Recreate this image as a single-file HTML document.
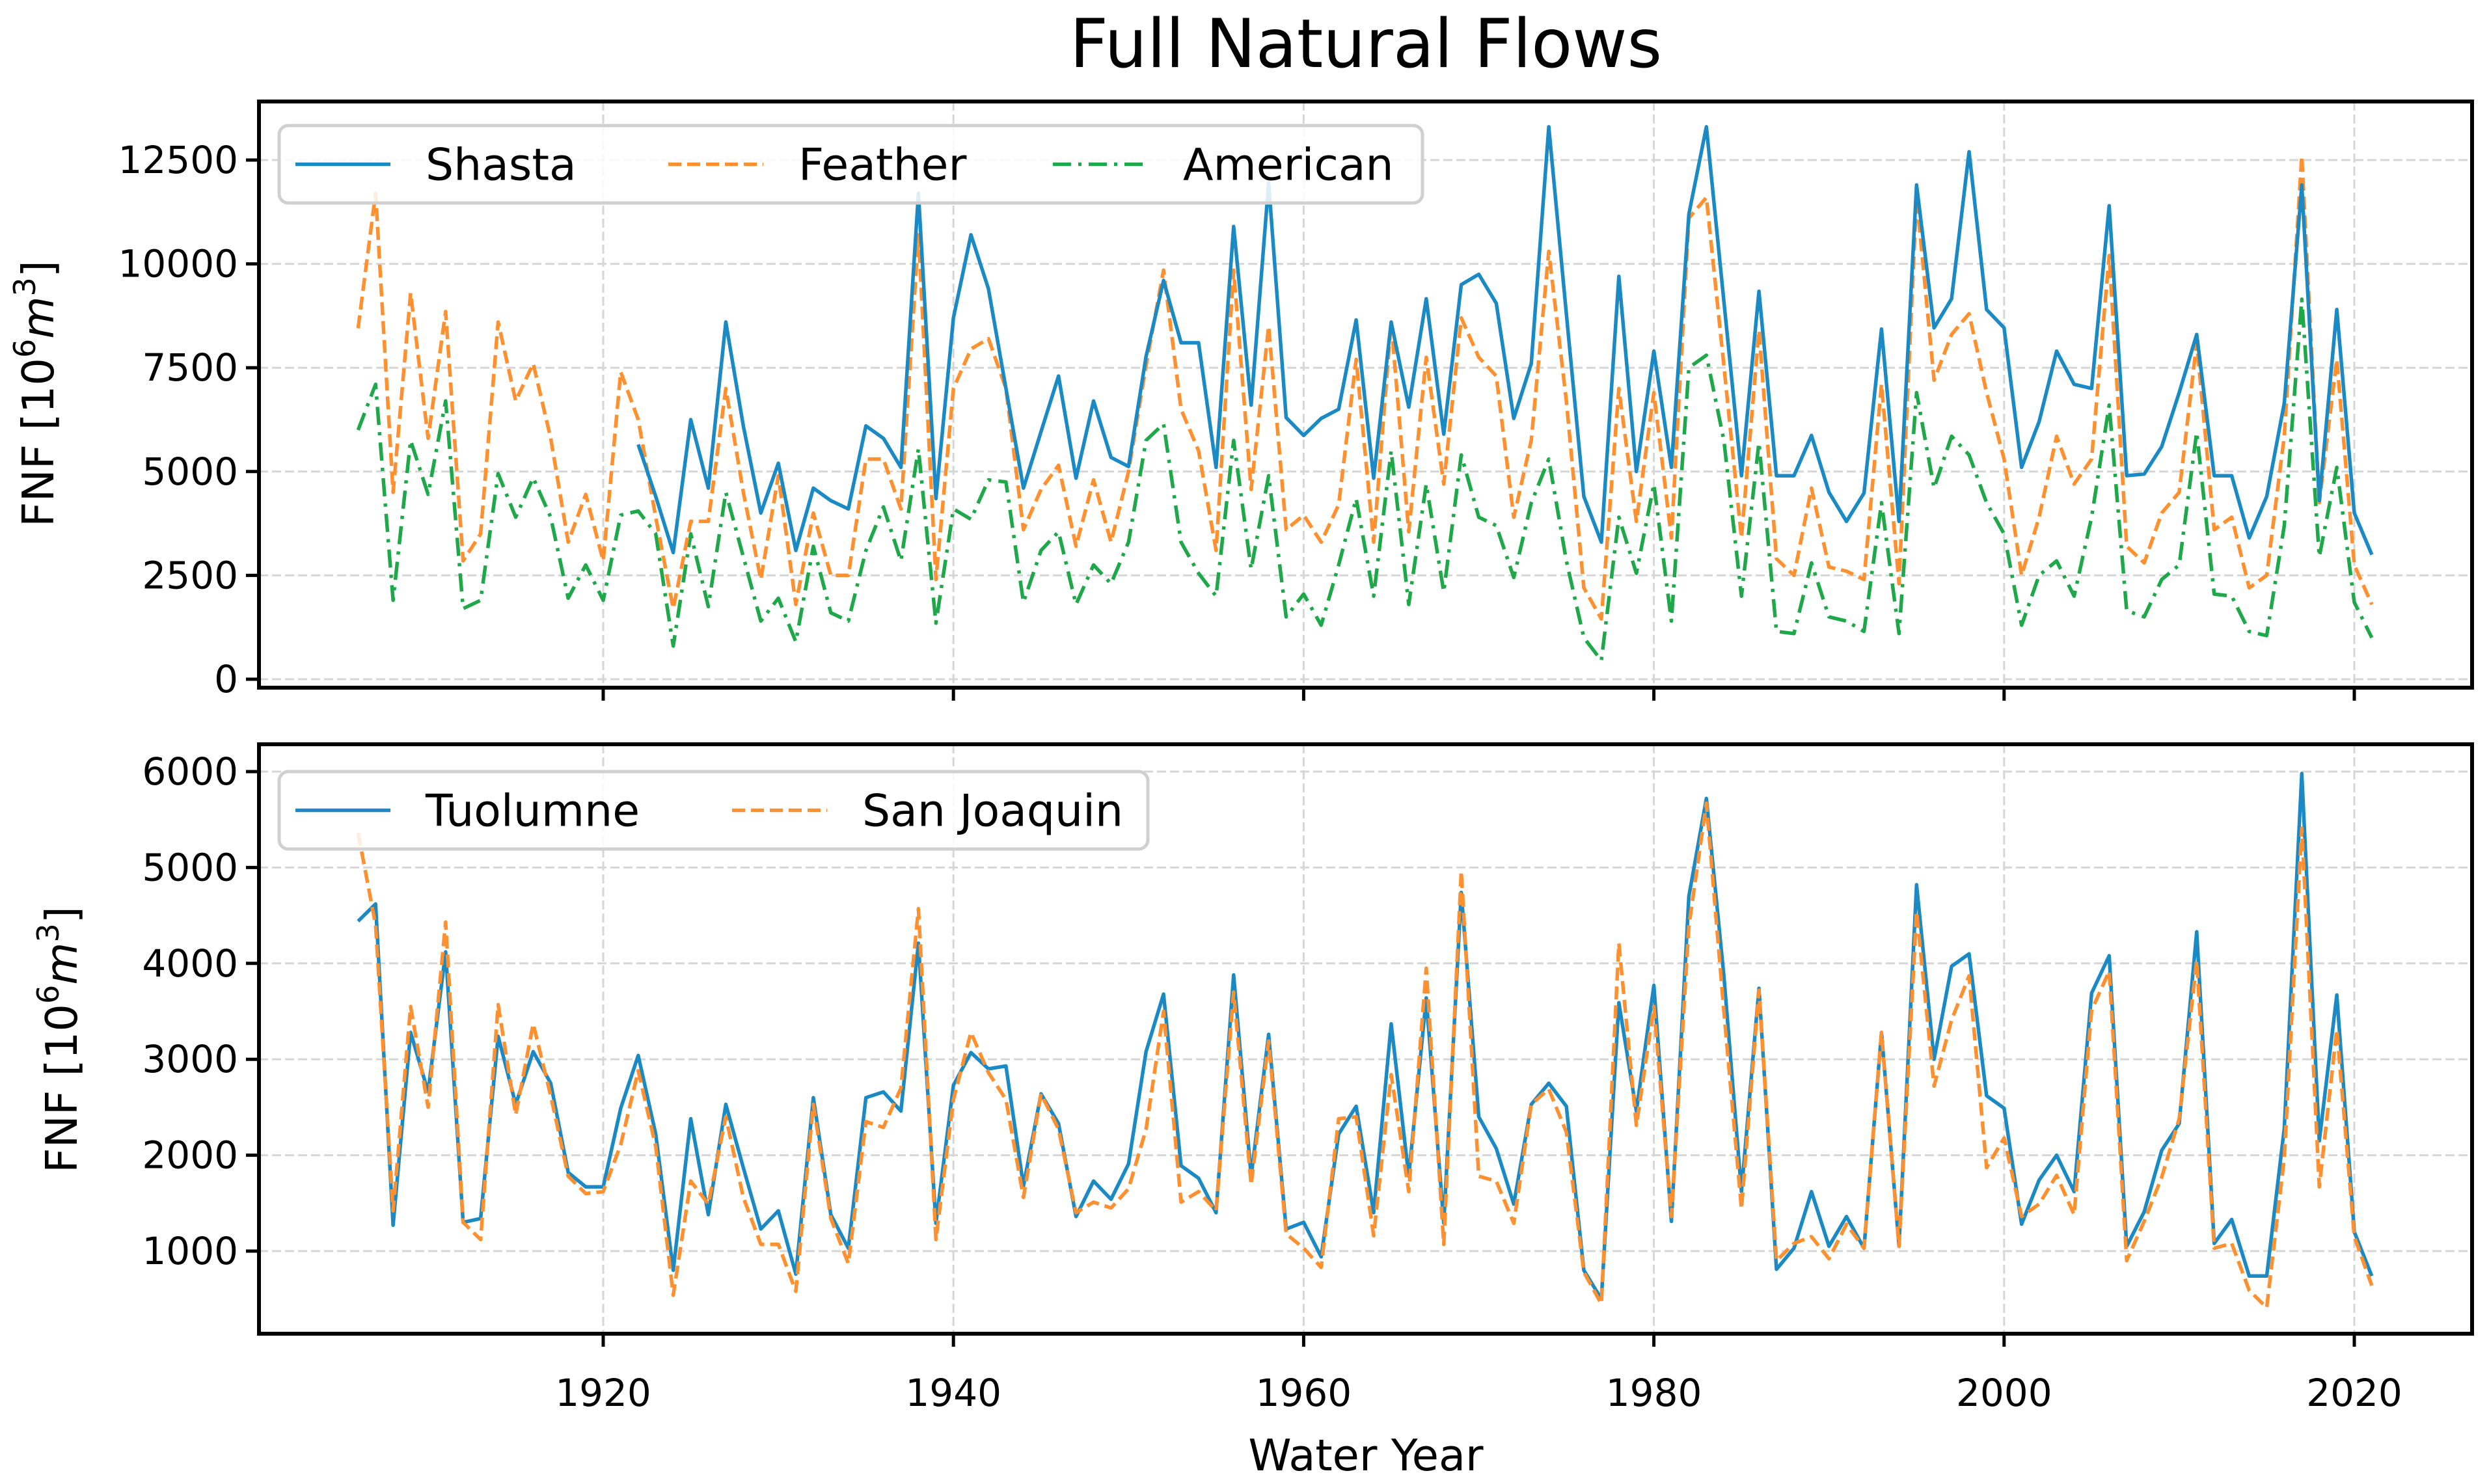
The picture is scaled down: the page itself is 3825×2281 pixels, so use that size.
<!DOCTYPE html>
<html><head><meta charset="utf-8"><title>Full Natural Flows</title>
<style>
html,body{margin:0;padding:0;background:#fff;}
svg{display:block;font-family:"DejaVu Sans","Liberation Sans",sans-serif;}
</style></head>
<body>
<svg id="chart" width="3825" height="2281" viewBox="0 0 3825 2281" xmlns="http://www.w3.org/2000/svg">
<rect width="3825" height="2281" fill="#fff"/>
<text x="2099" y="103" font-size="103" text-anchor="middle" fill="#000">Full Natural Flows</text>
<text x="2099" y="2260" font-size="67" text-anchor="middle" fill="#000">Water Year</text>
<text transform="translate(82,605) rotate(-90)" font-size="67" text-anchor="middle" fill="#000">FNF [10<tspan font-size="46" dy="-28">6</tspan><tspan dy="28" font-style="italic">m</tspan><tspan font-size="46" dy="-28">3</tspan><tspan dy="28">]</tspan></text>
<text transform="translate(118,1598) rotate(-90)" font-size="67" text-anchor="middle" fill="#000">FNF [10<tspan font-size="46" dy="-28">6</tspan><tspan dy="28" font-style="italic">m</tspan><tspan font-size="46" dy="-28">3</tspan><tspan dy="28">]</tspan></text>
<g id="plots"></g>
</svg>
<script>
const startYear = 1906;
const shastaStart = 1922;
const shasta = [5650,4400,3050,6250,4600,8600,6100,4000,5200,3100,
4600,4300,4100,6100,5800,5100,11700,4350,8700,10700,
9400,7000,4600,5960,7300,4840,6700,5340,5120,7770,
9600,8100,8100,5100,10900,6600,11950,6300,5870,6280,
6500,8650,4840,8600,6550,9160,5900,9500,9750,9050,
6280,7600,13300,8800,4400,3300,9700,5000,7900,5100,
11200,13300,9100,4900,9340,4900,4900,5870,4500,3800,
4480,8430,3800,11900,8460,9160,12700,8900,8460,5100,
6200,7900,7100,7000,11400,4900,4940,5600,6900,8300,
4900,4900,3400,4400,6650,11900,4300,8900,4000,3000];
const feather = [8450,11700,4500,9300,5800,8850,2850,3500,8600,6700,
7600,5800,3300,4450,2850,7400,6250,3900,1700,3800,
3800,7000,4500,2400,4900,1800,4000,2500,2500,5300,
5300,4100,10700,2400,7000,7950,8200,7000,3600,4570,
5150,3200,4800,3300,5000,7550,9850,6500,5500,3100,
9850,4570,8500,3600,3950,3300,4200,7700,3300,8600,
3550,7750,4700,8700,7750,7300,3900,5750,10300,6700,
2200,1450,7000,3800,6900,3400,11100,11600,7550,3400,
8400,2900,2500,4600,2700,2600,2400,7100,2300,11600,
7200,8300,8800,6900,5300,2500,3900,5850,4700,5300,
10200,3200,2800,4000,4500,8100,3600,3900,2200,2500,
5850,12600,4250,7700,2750,1800];
const american = [6000,7100,1900,5750,4450,6700,1700,1900,4950,3900,
4850,3900,1950,2750,1900,3950,4050,3500,800,3500,
1750,4500,2950,1400,1950,900,3200,1600,1400,3100,
4150,2850,5550,1350,4100,3850,4800,4750,1850,3100,
3550,1800,2750,2300,3300,5750,6150,3300,2550,2000,
5750,2650,4900,1500,2050,1300,2750,4350,2000,5500,
1800,4700,2100,5400,3900,3700,2450,4250,5300,2850,
1000,450,3900,2550,4700,1400,7500,7800,5750,2000,
5700,1150,1100,2800,1500,1400,1150,4250,1100,6900,
4600,5850,5400,4250,3500,1300,2500,2850,2000,3900,
6600,1650,1500,2400,2750,5950,2050,2000,1150,1050,
3700,9150,2950,5100,1850,1000];
const tuolumne = [4440,4620,1270,3280,2660,4120,1300,1340,3240,2530,
3080,2750,1820,1670,1670,2490,3040,2220,800,2380,
1380,2530,1870,1230,1420,760,2600,1380,1030,2600,
2660,2460,4210,1290,2730,3070,2900,2930,1680,2640,
2330,1360,1730,1540,1910,3080,3680,1890,1760,1400,
3880,1780,3260,1230,1300,940,2220,2510,1400,3370,
1780,3640,1290,4740,2400,2070,1490,2530,2750,2510,
800,500,3590,2460,3770,1310,4700,5720,3870,1620,
3740,810,1030,1620,1050,1360,1030,3280,1050,4820,
3000,3970,4100,2620,2490,1280,1740,2000,1620,3690,
4080,1050,1410,2050,2330,4330,1080,1330,740,740,
2280,5980,2150,3670,1200,740];
const sanJoaquin = [5360,4400,1420,3550,2500,4430,1300,1120,3570,2420,
3370,2620,1780,1600,1620,2110,2880,2090,540,1730,
1490,2400,1560,1070,1070,580,2530,1340,870,2350,
2290,2700,4570,1120,2580,3280,2860,2580,1560,2640,
2270,1400,1510,1450,1650,2270,3500,1510,1620,1420,
3700,1690,3190,1180,1030,830,2380,2400,1160,2840,
1620,3950,1070,4960,1780,1730,1290,2530,2690,2240,
780,450,4210,2310,3550,1360,4390,5670,3500,1440,
3720,900,1080,1150,920,1280,1030,3280,1050,4540,
2720,3410,3870,1870,2180,1360,1490,1790,1380,3510,
3920,900,1310,1770,2380,4030,1030,1080,590,410,
1970,5410,1670,3310,1150,640];
const xTicks = [1920,1940,1960,1980,2000,2020];
const topYTicks = [0,2500,5000,7500,10000,12500];
const bottomYTicks = [1000,2000,3000,4000,5000,6000];

const NS = 'http://www.w3.org/2000/svg';
const root = document.getElementById('plots');
const L = 398, R = 3799;
const xScale = y => 927 + (y - 1920) * 26.91;
const topY = v => 1044 - v * (798 / 12500);
const botY = v => 1923 - (v - 1000) * (737 / 5000);
function mk(tag, attrs, parent) {
  const e = document.createElementNS(NS, tag);
  for (const k in attrs) e.setAttribute(k, attrs[k]);
  (parent || root).appendChild(e);
  return e;
}
const BLUE = '#1b8ac4', ORANGE = '#ff9030', GREEN = '#1fa84a';
const LW = 5.5;
const DASH = '20 9';
const DASHDOT = '28 11 5 11';

function panel(name, top, bottom, yFn, yTicks, series, legend, leg) {
  const g = mk('g', {});
  
  
  xTicks.forEach(t => {
    const l = mk('line', {x1: xScale(t), x2: xScale(t), y1: top, y2: bottom, stroke: '#d6d6d6', 'stroke-width': 3, 'stroke-dasharray': '14 6'}, g);
    
    
  });
  yTicks.forEach(t => {
    const l = mk('line', {x1: L, x2: R, y1: yFn(t), y2: yFn(t), stroke: '#d6d6d6', 'stroke-width': 3, 'stroke-dasharray': '14 6'}, g);
    
    
    const tk = mk('line', {x1: L - 20, x2: L, y1: yFn(t), y2: yFn(t), stroke: '#000', 'stroke-width': 5}, g);
    
    
    const tx = mk('text', {x: L - 32, y: yFn(t) + 20, 'font-size': 58, 'text-anchor': 'end', fill: '#000'}, g);
    tx.textContent = t;
    
    
  });
  xTicks.forEach(t => {
    const tk = mk('line', {x1: xScale(t), x2: xScale(t), y1: bottom, y2: bottom + 20, stroke: '#000', 'stroke-width': 5}, g);
    
    
  });
  series.forEach(s => {
    let d = '';
    s.values.forEach((v, i) => {
      if (v == null) return;
      const yr = s.start + i;
      d += (d ? 'L' : 'M') + xScale(yr).toFixed(1) + ',' + yFn(v).toFixed(1);
    });
    const p = mk('path', {d: d, fill: 'none', stroke: s.color, 'stroke-width': LW, 'stroke-linejoin': 'round'}, g);
    if (s.dash) p.setAttribute('stroke-dasharray', s.dash);
    
    
  });
  const fr = mk('rect', {x: L, y: top, width: R - L, height: bottom - top, fill: 'none', stroke: '#000', 'stroke-width': 6}, g);
  
  
  const lg = mk('g', {}, g);
  
  
  mk('rect', {x: leg.x, y: leg.y, width: leg.w, height: leg.h, rx: 14, fill: '#fff', 'fill-opacity': 0.85, stroke: '#d0d0d0', 'stroke-width': 5}, lg);
  legend.forEach(e => {
    const cy = leg.y + leg.h / 2;
    const ln = mk('line', {x1: e.x, x2: e.x + 146, y1: cy, y2: cy, stroke: e.color, 'stroke-width': LW}, lg);
    if (e.dash) ln.setAttribute('stroke-dasharray', e.dash);
    
    
    const t = mk('text', {x: e.x + 200, y: cy + 24, 'font-size': 68, fill: '#000'}, lg);
    t.textContent = e.label;
    
    
  });
}

const shastaFull = new Array(shastaStart - startYear).fill(null).concat(shasta);
panel('top-panel', 156, 1057, topY, topYTicks, [
  {name: 'american', values: american, start: startYear, color: GREEN, dash: DASHDOT},
  {name: 'feather', values: feather, start: startYear, color: ORANGE, dash: DASH},
  {name: 'shasta', values: shastaFull, start: startYear, color: BLUE}
], [
  {label: 'Shasta', color: BLUE, x: 454},
  {label: 'Feather', color: ORANGE, x: 1027, dash: DASH},
  {label: 'American', color: GREEN, x: 1618, dash: DASHDOT}
], {x: 429, y: 193, w: 1757, h: 119});

panel('bottom-panel', 1144, 2050, botY, bottomYTicks, [
  {name: 'tuolumne', values: tuolumne, start: startYear, color: BLUE},
  {name: 'san-joaquin', values: sanJoaquin, start: startYear, color: ORANGE, dash: DASH}
], [
  {label: 'Tuolumne', color: BLUE, x: 454},
  {label: 'San Joaquin', color: ORANGE, x: 1125, dash: DASH}
], {x: 429, y: 1186, w: 1335, h: 119});

xTicks.forEach(t => {
  const tx = mk('text', {x: xScale(t), y: 2161, 'font-size': 58, 'text-anchor': 'middle', fill: '#000'});
  tx.textContent = t;
  
  
});
</script>
</body></html>
